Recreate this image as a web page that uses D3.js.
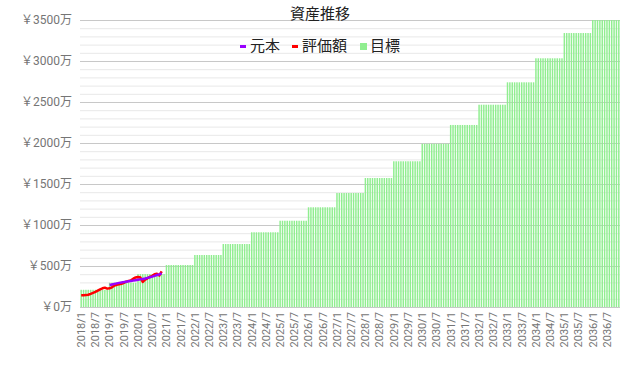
<!DOCTYPE html>
<html><head><meta charset="utf-8">
<script src="https://cdn.jsdelivr.net/npm/d3@7"></script>
<style>
html,body{margin:0;padding:0;background:#fff;}
svg{display:block;font-family:Roboto,"Noto Sans CJK JP",sans-serif;}
</style></head>
<body><svg id="c" width="640" height="382"></svg>
<script>
// ---- data ----
const years = [2018,2019,2020,2021,2022,2023,2024,2025,2026,2027,2028,2029,2030,2031,2032,2033,2034,2035,2036];
const targetByYear = [210,296,402,512,634,768,911,1052,1216,1390,1573,1777,1991,2220,2467,2740,3033,3341,3500];
// 評価額: monthly from 2018/1
const valuation = [142,142,145,150,160,172,185,200,215,228,236,224,228,240,262,272,276,282,295,310,318,325,345,360,366,360,305,335,350,368,380,400,405,385,435];
// 元本: monthly from 2019/1
const principalStart = 12;
const principal = [268,275,282,288,294,300,304,309,314,318,322,327,332,337,342,348,355,362,370,380,390,398,410];
const yTicks = [0,500,1000,1500,2000,2500,3000,3500];
const title = "資産推移";
const legendNames = ["元本","評価額","目標"];

// ---- build ----
const cats = [];
years.forEach((y,yi)=>{ for(let m=1;m<=12;m++) cats.push({label:y+"/"+m, m:m, target:targetByYear[yi]}); });

const svg = d3.select("#c");
const L=80,R=620,T=20,B=307;
const x = d3.scaleBand().domain(cats.map(d=>d.label)).range([L,R]).paddingInner(0.38).paddingOuter(0.19);
const y = d3.scaleLinear().domain([0,3500]).range([B,T]);

// grid
const minor = d3.range(0,3501,100);
svg.append("g").selectAll("line").data(minor).join("line")
  .attr("x1",L).attr("x2",R).attr("y1",d=>y(d)+0.5).attr("y2",d=>y(d)+0.5)
  .attr("stroke",d=>d%500===0?"#c8c8c8":"#e8e8e8").attr("stroke-width",1);

// y labels
svg.append("g").selectAll("text").data(yTicks).join("text")
  .attr("x",72).attr("y",d=>y(d)).attr("dy","0.35em").attr("text-anchor","end")
  .attr("font-size",12).attr("fill","#757575").text(d=>"￥"+d+"万");

// bars
svg.append("g").selectAll("rect").data(cats).join("rect")
  .attr("x",d=>x(d.label)).attr("width",x.bandwidth())
  .attr("y",d=>y(d.target)).attr("height",d=>B-y(d.target))
  .attr("fill","#90ee90");

// x labels
const cx = d=>x(d)+x.bandwidth()/2;
svg.append("g").selectAll("text").data(cats.filter(d=>d.m===1||d.m===7)).join("text")
  .attr("transform",d=>`translate(${cx(d.label)},312) rotate(-90)`)
  .attr("dy","0.35em").attr("text-anchor","end")
  .attr("font-size",11).attr("fill","#757575").text(d=>d.label);

// lines
const line = d3.line().x(d=>cx(d[0])).y(d=>y(d[1]));
svg.append("path").datum(valuation.map((v,i)=>[cats[i].label,v]))
  .attr("d",line).attr("fill","none").attr("stroke","#ff0000").attr("stroke-width",2.5).attr("stroke-linejoin","round");
svg.append("path").datum(principal.map((v,i)=>[cats[i+principalStart].label,v]))
  .attr("d",line).attr("fill","none").attr("stroke","#9900ff").attr("stroke-width",2.5).attr("stroke-linejoin","round");

// title
svg.append("text").attr("x",320).attr("y",14).attr("dy","0.35em").attr("text-anchor","middle")
  .attr("font-size",15).attr("fill","#222").text(title);

// legend
const lg = svg.append("g");
const items = [
  {name:legendNames[0], color:"#9900ff", type:"line", x:240},
  {name:legendNames[1], color:"#ff0000", type:"line", x:292},
  {name:legendNames[2], color:"#90ee90", type:"rect", x:360}
];
items.forEach(it=>{
  if(it.type==="line") lg.append("rect").attr("x",it.x).attr("y",45).attr("width",6).attr("height",3).attr("fill",it.color);
  else lg.append("rect").attr("x",it.x).attr("y",43).attr("width",7).attr("height",7).attr("fill",it.color);
  lg.append("text").attr("x",it.x+10).attr("y",46).attr("dy","0.35em").attr("font-size",15).attr("fill","#222").text(it.name);
});
</script></body></html>
